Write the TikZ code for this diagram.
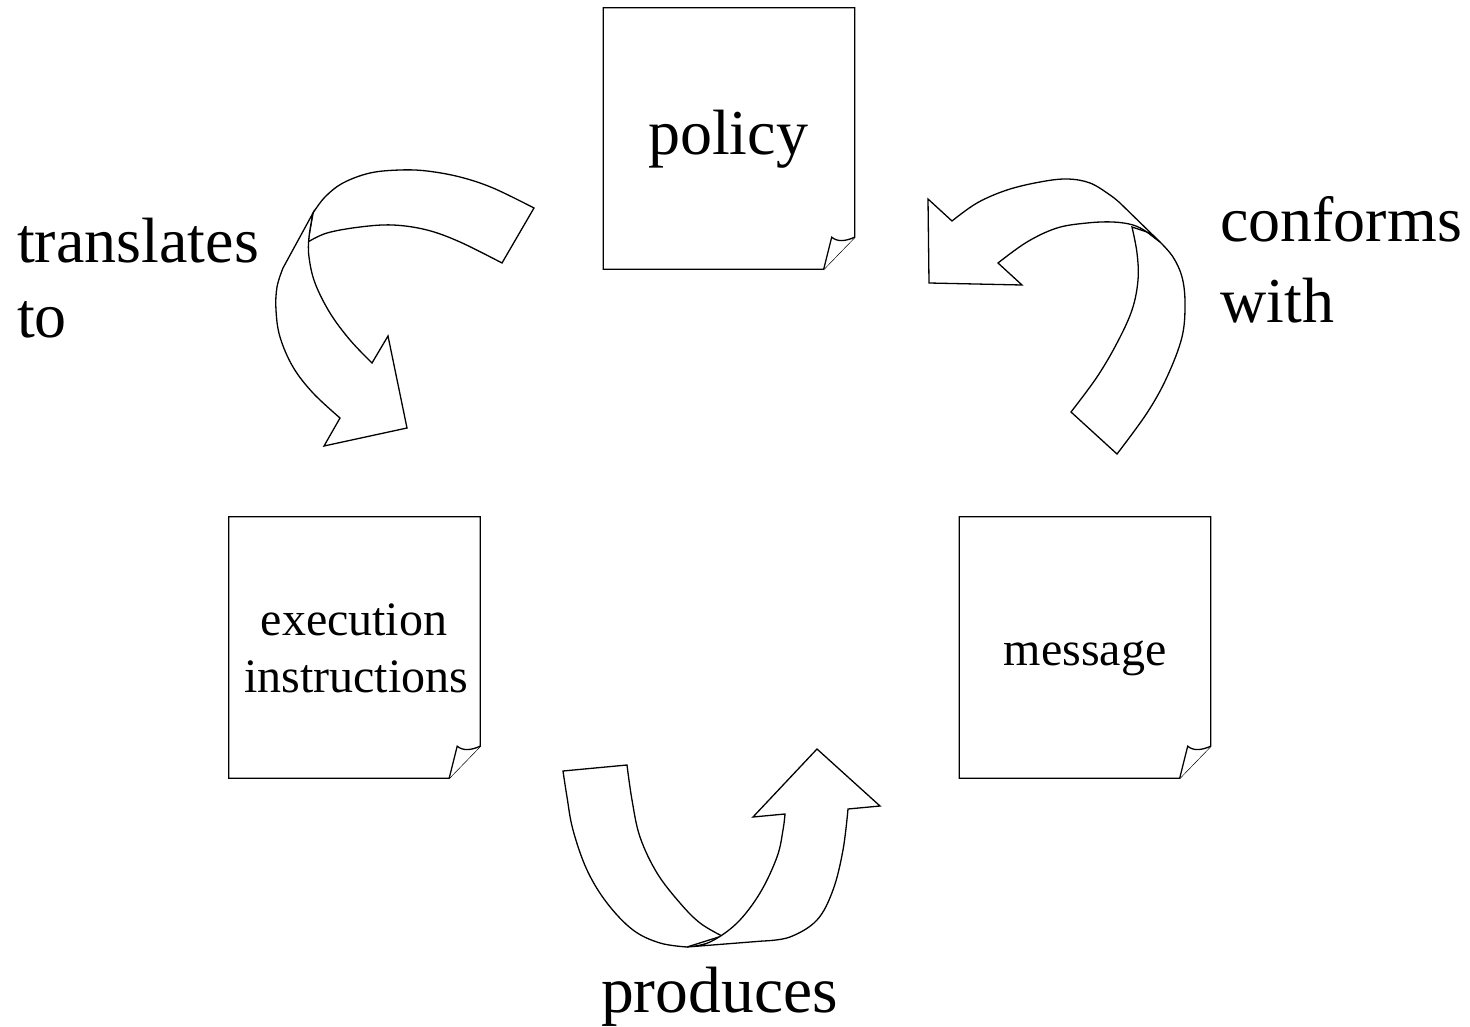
\documentclass[tikz,border=0pt]{standalone}
\usepackage{fontspec}
\setmainfont{Liberation Serif}
\begin{document}
\begin{tikzpicture}[x=1pt,y=-1pt,
  outline/.style={draw=black,line width=1.3pt,line join=miter,fill=white},
  big/.style={font=\fontsize{64}{75}\selectfont,inner sep=0pt},
  small/.style={font=\fontsize{48}{57}\selectfont,inner sep=0pt},
  paper/.style={inner sep=0pt,minimum width=251pt,minimum height=261pt}]
\useasboundingbox (0,0) rectangle (1470,1027);

% sheet with a curled lower-right corner
\newcommand{\sheet}[1]{%
  \draw[outline] (#1.south west) -- (#1.north west) -- (#1.north east)
    -- ([yshift=32pt]#1.south east) -- ([xshift=-31pt]#1.south east) -- cycle;
  \draw[outline] ([xshift=-31pt]#1.south east) -- ([xshift=-23pt,yshift=32pt]#1.south east)
    .. controls ([xshift=-17pt,yshift=27pt]#1.south east) and ([xshift=-9pt,yshift=28pt]#1.south east)
    .. ([yshift=32pt]#1.south east);}

\node[paper] (policy) at (729,138.5) {};
\node[paper] (exec) at (354.5,647.5) {};
\node[paper] (msg) at (1085,647.5) {};
\sheet{policy}
\sheet{exec}
\sheet{msg}

\node[big,anchor=base] (policytxt) at (728,155) {policy};
\node[small,anchor=base] (exec1) at (354,635) {execution};
\node[small,anchor=base] (exec2) at (356,692) {instructions};
\node[small,anchor=base] (msgtxt) at (1085,665) {message};

% ribbon arrow: policy -> execution instructions
\draw[outline] (534,208) -- plot[smooth,tension=0.6] coordinates
  {(534,208) (493,188) (460,177) (427,171) (400,170) (370,173) (343,183) (325,197) (313,213)}
  -- (308,242) -- plot[smooth,tension=0.6] coordinates
  {(308,242) (327,233) (360,227) (393,225) (427,230) (460,242) (502,263)} -- cycle;
\draw[outline] (313,213) -- (283,268) -- plot[smooth,tension=0.6] coordinates
  {(283,268) (277,287) (276,310) (280,337) (293,367) (313,393) (340,418)}
  -- (324,446) -- (407,428) -- (388,336) -- plot[smooth,tension=0.6] coordinates
  {(372,363) (350,340) (330,313) (315,283) (309,257) (309,237) (313,213)} -- cycle;

% ribbon arrow: message -> policy
\draw[outline] (1160,242) -- plot[smooth,tension=0.6] coordinates
  {(1160,242) (1173,257) (1182,277) (1185,303) (1182,337) (1167,377) (1147,413) (1117,454)}
  -- plot[smooth,tension=0.6] coordinates
  {(1071,412) (1097,377) (1117,343) (1132,310) (1138,280) (1137,253) (1132,227)}
  -- (1147,232) -- cycle;
\draw[outline] (928,199) -- plot[smooth,tension=0.6] coordinates
  {(952,221) (977,203) (1007,190) (1040,182) (1067,179) (1090,183) (1110,195) (1120,203)}
  -- plot[smooth,tension=0.6] coordinates
  {(1160,242) (1147,232) (1133,225) (1113,222) (1087,223) (1057,228) (1027,242) (998,263)}
  -- (1022,285) -- (929,283) -- cycle;

% ribbon arrow: execution instructions -> message
\draw[outline] (563,771) -- plot[smooth,tension=0.6] coordinates
  {(627,765) (632,800) (640,837) (657,873) (680,903) (700,923) (722,936)}
  -- (687,947) -- plot[smooth,tension=0.6] coordinates
  {(687,947) (660,943) (633,930) (607,903) (587,870) (573,830) (567,797) (563,771)} -- cycle;
\draw[outline] (687,947) -- plot[smooth,tension=0.6] coordinates
  {(687,947) (710,942) (737,923) (760,893) (777,857) (783,830) (785,814)}
  -- (753,817) -- (817,749) -- (880,806) -- plot[smooth,tension=0.6] coordinates
  {(848,809) (843,850) (833,890) (817,920) (790,937) (763,941)} -- cycle;

% arrow labels
\node[big,anchor=base west] (tr1) at (17,262) {translates};
\node[big,anchor=base west] (tr2) at (17,337) {to};
\node[big,anchor=base west] (cf1) at (1220,242) {conforms};
\node[big,anchor=base west] (cf2) at (1220,322) {with};
\node[big,anchor=base west,font=\fontsize{65.5}{75}\selectfont] (pr) at (601,1012) {produces};
\end{tikzpicture}
\end{document}
